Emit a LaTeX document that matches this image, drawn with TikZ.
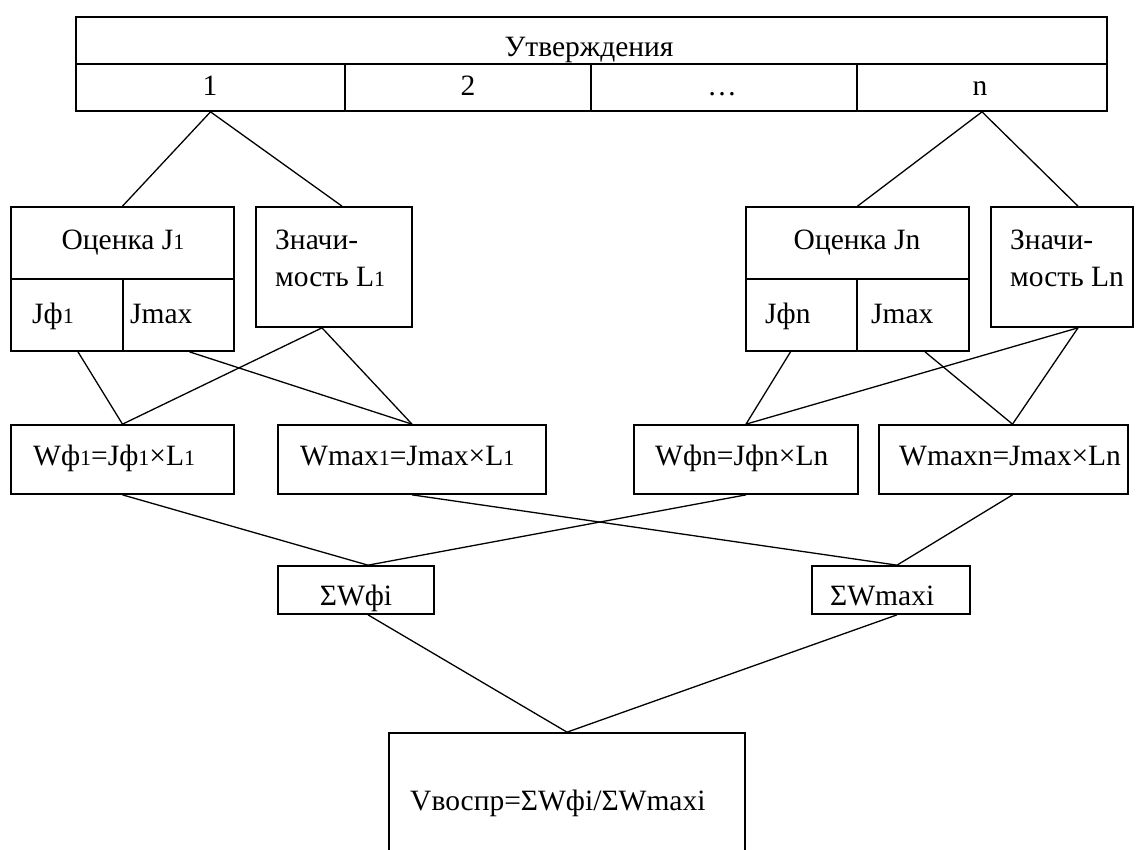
\documentclass[tikz,border=0pt]{standalone}
\usepackage{fontspec}
\setmainfont{Liberation Serif}
\usetikzlibrary{fit}
\tikzset{
  box/.style={draw, line width=1.7pt, inner sep=0pt},
  link/.style={draw, line width=1.3pt},
  txt/.style={inner sep=0pt, font=\fontsize{29.5}{34}\selectfont},
}
\newcommand{\sm}[1]{{\fontsize{22}{24}\selectfont #1}}
\begin{document}
\begin{tikzpicture}[x=1pt,y=-1pt]
\useasboundingbox (0,0) rectangle (1140,849);
\fill[white] (0,0) rectangle (1140,849);

% top table
\node[box, fit={(76,17) (1107,64)}] (head) {};
\node[box, fit={(76,64) (345,111)}] (c1) {};
\node[box, fit={(345,64) (591,111)}] (c2) {};
\node[box, fit={(591,64) (857,111)}] (c3) {};
\node[box, fit={(857,64) (1107,111)}] (cn) {};
\node[txt, anchor=base] (thead) at (589,56) {Утверждения};
\node[txt, anchor=base] (t1) at (210,95) {1};
\node[txt, anchor=base] (t2) at (468,95) {2};
\node[txt, anchor=base] (t3) at (722,95) {\dots};
\node[txt, anchor=base] (tn) at (980,95) {n};

% left group
\node[box, fit={(11,207) (234,279)}] (oc1) {};
\node[box, fit={(11,279) (123,351)}] (jf1) {};
\node[box, fit={(123,279) (234,351)}] (jm1) {};
\node[box, fit={(256,207) (412,327)}] (zn1) {};
\node[txt, anchor=base] (toc1) at (123,249) {Оценка J\sm{1}};
\node[txt, anchor=base west] (tjf1) at (32,323) {Jф\sm{1}};
\node[txt, anchor=base west] (tjm1) at (130,323) {Jmax};
\node[txt, anchor=base west] (tzn1a) at (275,249) {Значи-};
\node[txt, anchor=base west] (tzn1b) at (275,286) {мость L\sm{1}};

% right group
\node[box, fit={(746,207) (969,279)}] (ocn) {};
\node[box, fit={(746,279) (857,351)}] (jfn) {};
\node[box, fit={(857,279) (969,351)}] (jmn) {};
\node[box, fit={(991,207) (1133,327)}] (znn) {};
\node[txt, anchor=base] (tocn) at (857,249) {Оценка Jn};
\node[txt, anchor=base west] (tjfn) at (765,323) {Jфn};
\node[txt, anchor=base west] (tjmn) at (871,323) {Jmax};
\node[txt, anchor=base west] (tznna) at (1010,249) {Значи-};
\node[txt, anchor=base west] (tznnb) at (1010,286) {мость Ln};

% products row
\node[box, fit={(11,425) (234,494)}] (wf1) {};
\node[box, fit={(278,425) (546,494)}] (wm1) {};
\node[box, fit={(634,425) (858,494)}] (wfn) {};
\node[box, fit={(879,425) (1128,494)}] (wmn) {};
\node[txt, anchor=base west] (twf1) at (33,465) {Wф\sm{1}=Jф\sm{1}×L\sm{1}};
\node[txt, anchor=base west] (twm1) at (300,465) {Wmax\sm{1}=Jmax×L\sm{1}};
\node[txt, anchor=base west] (twfn) at (655,465) {Wфn=Jфn×Ln};
\node[txt, anchor=base west] (twmn) at (899,465) {Wmaxn=Jmax×Ln};

% sums
\node[box, fit={(278,566) (434,614)}] (sf) {};
\node[box, fit={(812,566) (970,614)}] (smx) {};
\node[txt, anchor=base] (tsf) at (356,605) {ΣWфi};
\node[txt, anchor=base west] (tsm) at (830,605) {ΣWmaxi};

% result
\node[box, fit={(389,733) (745,870)}] (v) {};
\node[txt, anchor=base west] (tv) at (410,810) {Vвоспр=ΣWфi/ΣWmaxi};

% connectors
\draw[link] (c1.south) -- (oc1.north);
\draw[link] (c1.south) -- ([xshift=8pt]zn1.north);
\draw[link] (cn.south) -- (ocn.north);
\draw[link] (cn.south) -- ([xshift=16pt]znn.north);

\draw[link] ([xshift=11pt]jf1.south) -- (wf1.north);
\draw[link] ([xshift=-12pt]zn1.south) -- (wf1.north);
\draw[link] ([xshift=11pt]jm1.south) -- (wm1.north);
\draw[link] ([xshift=-12pt]zn1.south) -- (wm1.north);

\draw[link] ([xshift=-11pt]jfn.south) -- (wfn.north);
\draw[link] ([xshift=16pt]znn.south) -- (wfn.north);
\draw[link] ([xshift=12pt]jmn.south) -- ([xshift=9pt]wmn.north);
\draw[link] ([xshift=16pt]znn.south) -- ([xshift=9pt]wmn.north);

\draw[link] (wf1.south) -- ([xshift=12pt]sf.north);
\draw[link] (wfn.south) -- ([xshift=12pt]sf.north);
\draw[link] (wm1.south) -- ([xshift=6pt]smx.north);
\draw[link] ([xshift=9pt]wmn.south) -- ([xshift=6pt]smx.north);

\draw[link] ([xshift=12pt]sf.south) -- (v.north);
\draw[link] ([xshift=6pt]smx.south) -- (v.north);
\end{tikzpicture}
\end{document}
